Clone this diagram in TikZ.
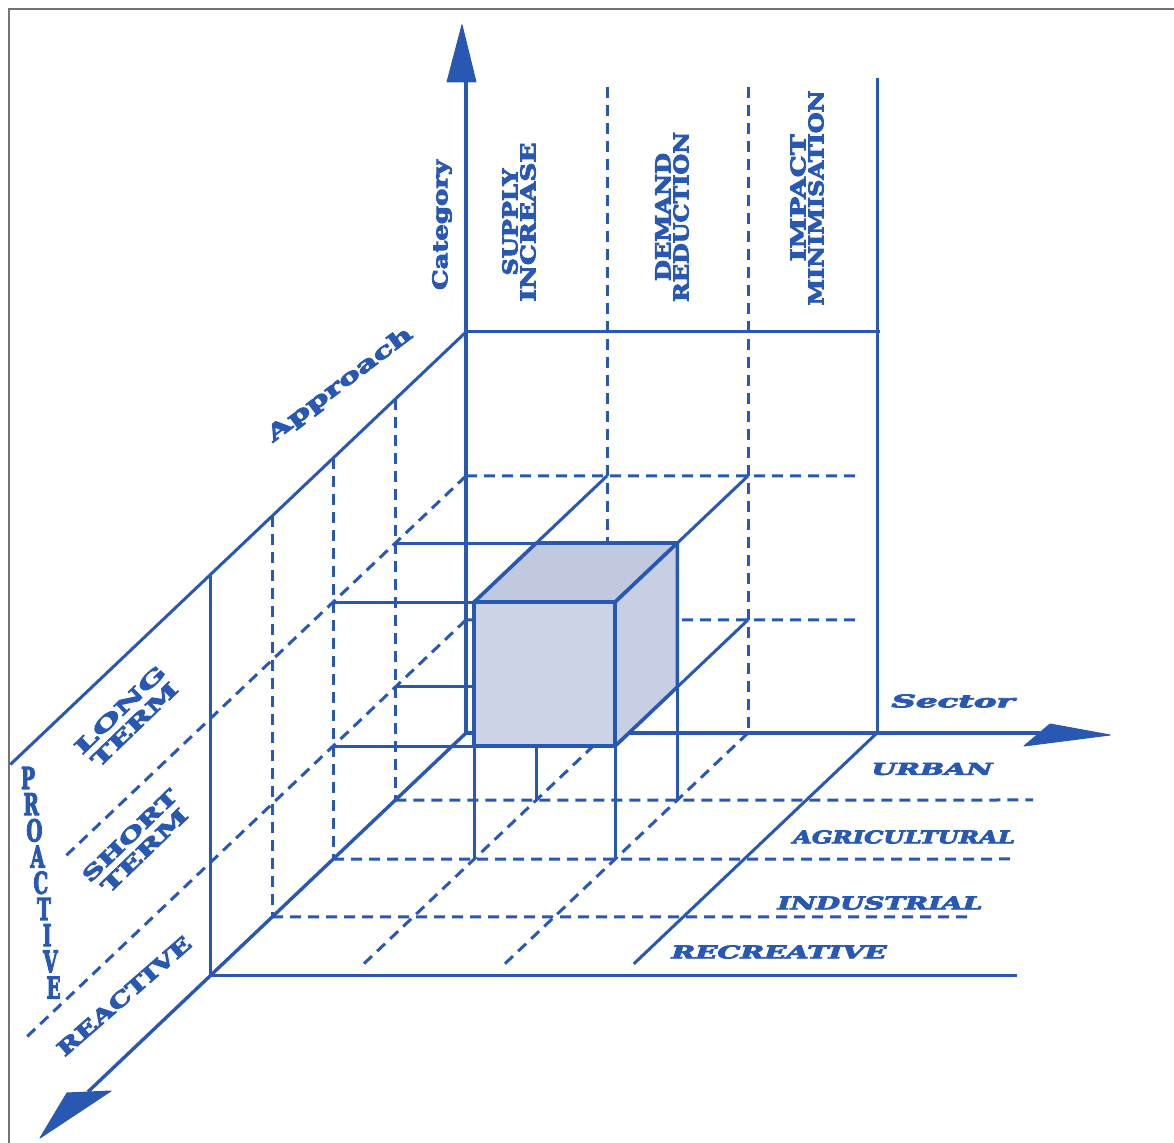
\documentclass[tikz,border=0pt]{standalone}
\usepackage{fontspec}
\setmainfont{DejaVu Serif}[BoldFeatures={FakeBold=4}, BoldItalicFeatures={FakeBold=4}]
\usepackage{graphicx}
\definecolor{ink}{RGB}{40,88,178}
\definecolor{faceF}{RGB}{204,211,231}
\definecolor{faceT}{RGB}{193,201,225}
\definecolor{faceR}{RGB}{199,207,228}
\newdimen\pxu
\pxu=0.5pt
% text squeezed or stretched to a given width and cap height (in drawing units)
\newcommand\lbl[3]{\resizebox{#1\pxu}{#2\pxu}{#3}}
% point of the oblique grid: name, sector offset X, depth fraction Y, height fraction Z
\newcommand\gpt[4]{\coordinate (#1) at ({466+(#2)-256*(#3)},{733-401*(#4)+243*(#3)});}
\def\Ya{0.276}
\def\Yb{0.519}
\def\Yc{0.757}
\def\Za{0.282}
\def\Zb{0.641}
\tikzset{
  frame/.style={draw=black!55, line width=0.6pt},
  wire/.style={draw=ink, line width=1.5pt},
  dashwire/.style={draw=ink, line width=1.5pt, dash pattern=on 5.5pt off 3.5pt},
  axisline/.style={draw=ink, line width=1.7pt},
  head/.style={fill=ink, draw=ink, line width=0.5pt, line join=round},
  cubeedge/.style={draw=ink, line width=1.8pt, line join=round},
  lab/.style={inner sep=0pt, text=ink, font=\bfseries\fontsize{7}{9}\selectfont, align=center},
  slab/.style={inner sep=0pt, text=ink, font=\bfseries\itshape},
  pro/.style={inner sep=0pt, text=ink, font=\bfseries\fontsize{15}{15}\selectfont},
}
\begin{document}
\begin{tikzpicture}[x=0.5pt,y=-0.5pt]
\useasboundingbox (0,0) rectangle (1174,1143);

% page frame
\coordinate (frBL) at (9,1143);
\coordinate (frTL) at (9,9);
\coordinate (frTR) at (1174,9);
\draw[frame] (frBL) -- (frTL) -- (frTR);

% back wall
\gpt{O}{0}{0}{0}
\gpt{Otop}{0}{0}{1}
\coordinate (catBase) at (466,81);
\coordinate (catTip) at (462,25);
\coordinate (catL) at (447,82);
\coordinate (catR) at (476,82);
\coordinate (topR) at (880,332);
\gpt{Rb}{411}{0}{0}
\coordinate (Rt) at (877,78);
\coordinate (c1t) at (607,87);
\gpt{c1b}{141}{0}{0}
\coordinate (c2t) at (748,87);
\gpt{c2b}{282}{0}{0}
\gpt{zb0}{0}{0}{\Zb}
\coordinate (zbR) at (857,476);
\gpt{za0}{0}{0}{\Za}
\coordinate (zaR) at (858,620);

% left wall
\gpt{Ltop}{0}{1.78}{1}
\gpt{apBase}{0}{1.477}{0}
\coordinate (apTip) at (40,1138);
\coordinate (apL) at (67,1093);
\coordinate (apR) at (111,1091);
\gpt{w1t}{0}{\Ya}{1}
\gpt{w1b}{0}{\Ya}{0}
\gpt{w2t}{0}{\Yb}{1}
\gpt{w2b}{0}{\Yb}{0}
\gpt{w3t}{0}{\Yc}{1}
\gpt{w3b}{0}{\Yc}{0}
\gpt{w4t}{0}{1}{1}
\gpt{w4b}{0}{1}{0}
\gpt{dZbEnd}{0}{1.58}{\Zb}
\gpt{dZaEnd}{0}{1.72}{\Za}

% floor
\coordinate (secEnd) at (1040,733);
\coordinate (secTip) at (1110,735);
\coordinate (secU) at (1050,724);
\coordinate (secD) at (1024,746);
\coordinate (f1b) at (1033,800);
\coordinate (f2b) at (1017,859);
\coordinate (f3b) at (973,917);
\coordinate (f4b) at (1017,976);
\gpt{g1}{141}{0.95}{0}
\gpt{g2}{282}{0.95}{0}
\gpt{g3}{411}{0.95}{0}

% cube corners and their projections
\gpt{Lbd}{141}{\Ya}{\Za}
\gpt{Lbu}{141}{\Ya}{\Zb}
\gpt{Lfd}{141}{\Yb}{\Za}
\gpt{Lfu}{141}{\Yb}{\Zb}
\gpt{Rbd}{282}{\Ya}{\Za}
\gpt{Rbu}{282}{\Ya}{\Zb}
\gpt{Rfd}{282}{\Yb}{\Za}
\gpt{Rfu}{282}{\Yb}{\Zb}
\gpt{Lb0}{141}{\Ya}{0}
\gpt{Lf0}{141}{\Yb}{0}
\gpt{Rb0}{282}{\Ya}{0}
\gpt{Rf0}{282}{\Yb}{0}
\gpt{pAb}{0}{\Ya}{\Zb}
\gpt{pBb}{0}{\Yb}{\Zb}
\gpt{pAa}{0}{\Ya}{\Za}
\gpt{pBa}{0}{\Yb}{\Za}
\gpt{qL}{141}{0}{\Zb}
\gpt{qR}{282}{0}{\Zb}
\gpt{qRa}{282}{0}{\Za}

% dashed grid lines
\draw[dashwire] (c1t) -- (c1b);
\draw[dashwire] (c2t) -- (c2b);
\draw[dashwire] (zb0) -- (zbR);
\draw[dashwire] (za0) -- (zaR);
\draw[dashwire] (w1t) -- (w1b);
\draw[dashwire] (w2t) -- (w2b);
\draw[dashwire] (w3t) -- (w3b);
\draw[dashwire] (zb0) -- (dZbEnd);
\draw[dashwire] (za0) -- (dZaEnd);
\draw[dashwire] (w1b) -- (f1b);
\draw[dashwire] (w2b) -- (f2b);
\draw[dashwire] (w3b) -- (f3b);
\draw[dashwire] (c1b) -- (g1);
\draw[dashwire] (c2b) -- (g2);

% solid outline of walls and floor
\draw[wire] (Otop) -- (topR);
\draw[wire] (Rb) -- (Rt);
\draw[wire] (Otop) -- (Ltop);
\draw[wire] (w4t) -- (w4b);
\draw[wire] (w4b) -- (f4b);
\draw[wire] (Rb) -- (g3);

% projection lines of the cube onto the walls and floor
\draw[wire] (pAb) -- (Rbu);
\draw[wire] (pBb) -- (Lfu);
\draw[wire] (pAa) -- (Lbd);
\draw[wire] (pBa) -- (Rfd);
\draw[wire] (qL) -- (Lfu);
\draw[wire] (qR) -- (Rfu);
\draw[wire] (qRa) -- (Rfd);
\draw[wire] (Lbu) -- (Lb0);
\draw[wire] (Lfu) -- (Lf0);
\draw[wire] (Rbu) -- (Rb0);
\draw[wire] (Rfu) -- (Rf0);

% axes
\draw[axisline] (O) -- (catBase);
\filldraw[head] (catTip) -- (catL) -- (catR) -- cycle;
\draw[axisline] (O) -- (secEnd);
\filldraw[head] (secTip) -- (secU) -- (secD) -- cycle;
\draw[axisline] (O) -- (apBase);
\filldraw[head] (apTip) -- (apL) -- (apR) -- cycle;

% the highlighted cell
\filldraw[cubeedge, fill=faceT] (Lfu) -- (Rfu) -- (Rbu) -- (Lbu) -- cycle;
\filldraw[cubeedge, fill=faceR] (Rfd) -- (Rbd) -- (Rbu) -- (Rfu) -- cycle;
\filldraw[cubeedge, fill=faceF] (Lfd) -- (Rfd) -- (Rfu) -- (Lfu) -- cycle;

% axis titles
\node[lab, rotate=90] (category) at (442,225) {\lbl{130}{15}{Category}};
\node[lab, rotate=37] (approach) at (340,385) {\lbl{176}{16}{Approach}};
\node[slab] (sector) at (953,701) {\lbl{123}{13}{Sector}};

% category columns
\node[lab, rotate=90] (supply) at (519,222) {\lbl{107}{15}{SUPPLY}\\\lbl{159}{15}{INCREASE}};
\node[lab, rotate=90] (demand) at (672,217) {\lbl{128}{15}{DEMAND}\\\lbl{170}{15}{REDUCTION}};
\node[lab, rotate=90] (impact) at (807,198) {\lbl{127}{15}{IMPACT}\\\lbl{215}{15}{MINIMISATION}};

% approach bands
\node[lab, rotate=44, font=\bfseries\fontsize{7}{10.5}\selectfont] (longterm) at (127,717) {\lbl{118}{14}{LONG}\\\lbl{112}{14}{TERM}};
\node[lab, rotate=44, font=\bfseries\fontsize{7}{10.5}\selectfont] (shortterm) at (137,843) {\lbl{124}{14}{SHORT}\\\lbl{112}{14}{TERM}};
\node[lab, rotate=41] (reactive) at (124,996) {\lbl{170}{15}{REACTIVE}};
\foreach \ch [count=\i from 0] in {P,R,O,A,C,T,I,V,E} {
  \node[pro] (pro\i) at ({28+3.2*\i},{778+26.2*\i}) {\scalebox{0.62}[1]{\ch}};
}

% sector rows
\node[slab] (urban) at (932,769) {\lbl{121}{12}{URBAN}};
\node[slab] (agri) at (904,837) {\lbl{222}{13}{AGRICULTURAL}};
\node[slab] (indus) at (880,903) {\lbl{205}{13}{INDUSTRIAL}};
\node[slab] (recre) at (779,952) {\lbl{215}{13}{RECREATIVE}};
\end{tikzpicture}
\end{document}
